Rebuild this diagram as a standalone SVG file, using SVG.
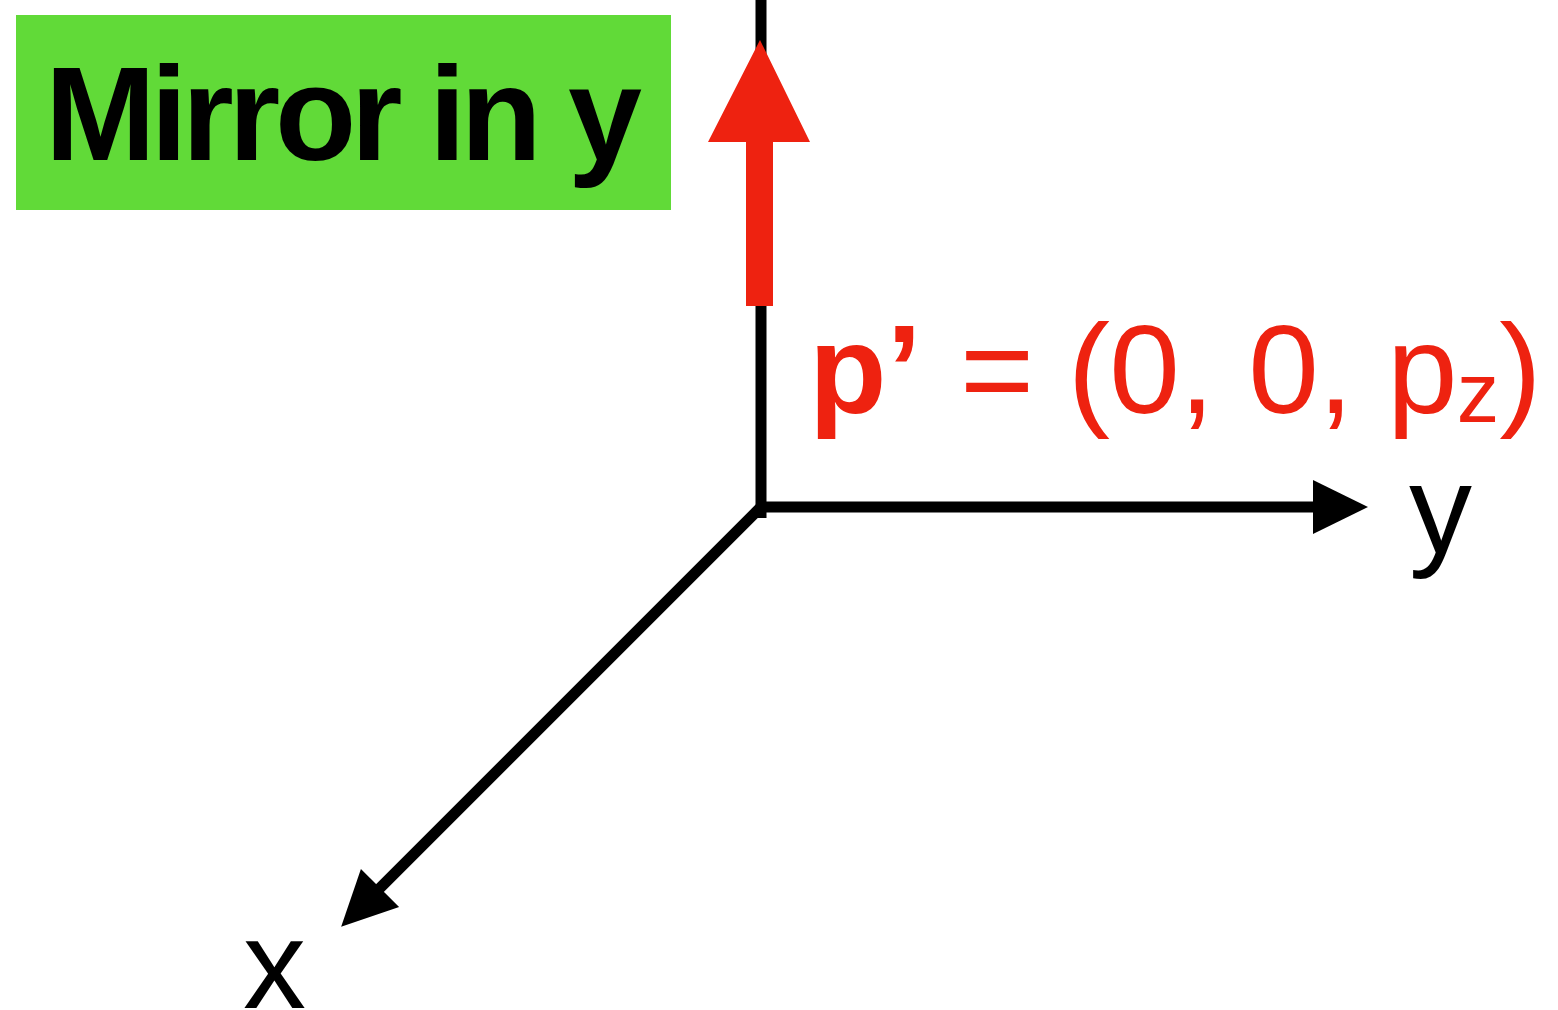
<svg xmlns="http://www.w3.org/2000/svg" width="1558" height="1010" viewBox="0 0 1558 1010">
<style>
.axis{stroke:#000;stroke-width:11;fill:none;stroke-linecap:butt}
.lbl{font-family:"Liberation Sans",Arial,sans-serif;font-size:126px;fill:#000}
.red{font-family:"Liberation Sans",Arial,sans-serif;font-size:127px;fill:#EE2210}
</style>
<defs>
<marker id="ah" markerUnits="userSpaceOnUse" viewBox="0 -30 60 60" markerWidth="60" markerHeight="60" refX="3" refY="0" orient="auto">
<path d="M0,-27 L55,0 L0,27 Z" fill="#000"/>
</marker>
</defs>
<rect width="1558" height="1010" fill="#fff"/>
<g id="title">
<rect x="16" y="15" width="655" height="195" fill="#61DA38"/>
<text x="45" y="160" font-family="Liberation Sans, Arial, sans-serif" font-weight="bold" font-size="133" textLength="597" lengthAdjust="spacing" fill="#000">Mirror in y</text>
</g>
<g id="connectors">
<line class="axis" x1="761" y1="0" x2="761" y2="518"/>
<line class="axis" x1="756" y1="507" x2="1316" y2="507" marker-end="url(#ah)"/>
<line class="axis" x1="763" y1="505" x2="377.9" y2="890.1" marker-end="url(#ah)"/>
<path id="momentum-arrow" d="M746,306 L746,142 L708,142 L760,40 L810,142 L773,142 L773,306 Z" fill="#EE2210"/>
</g>
<g id="momentum-label">
<text class="red" y="413"><tspan x="809" font-weight="bold">p’</tspan><tspan x="960" letter-spacing="-0.8">= (0, 0, p</tspan><tspan font-size="85" dy="9">z</tspan><tspan dy="-9">)</tspan></text>
</g>
<g id="y-label"><text class="lbl" x="1409" y="553">y</text></g>
<g id="x-label"><text class="lbl" x="243" y="1008">x</text></g>
</svg>
